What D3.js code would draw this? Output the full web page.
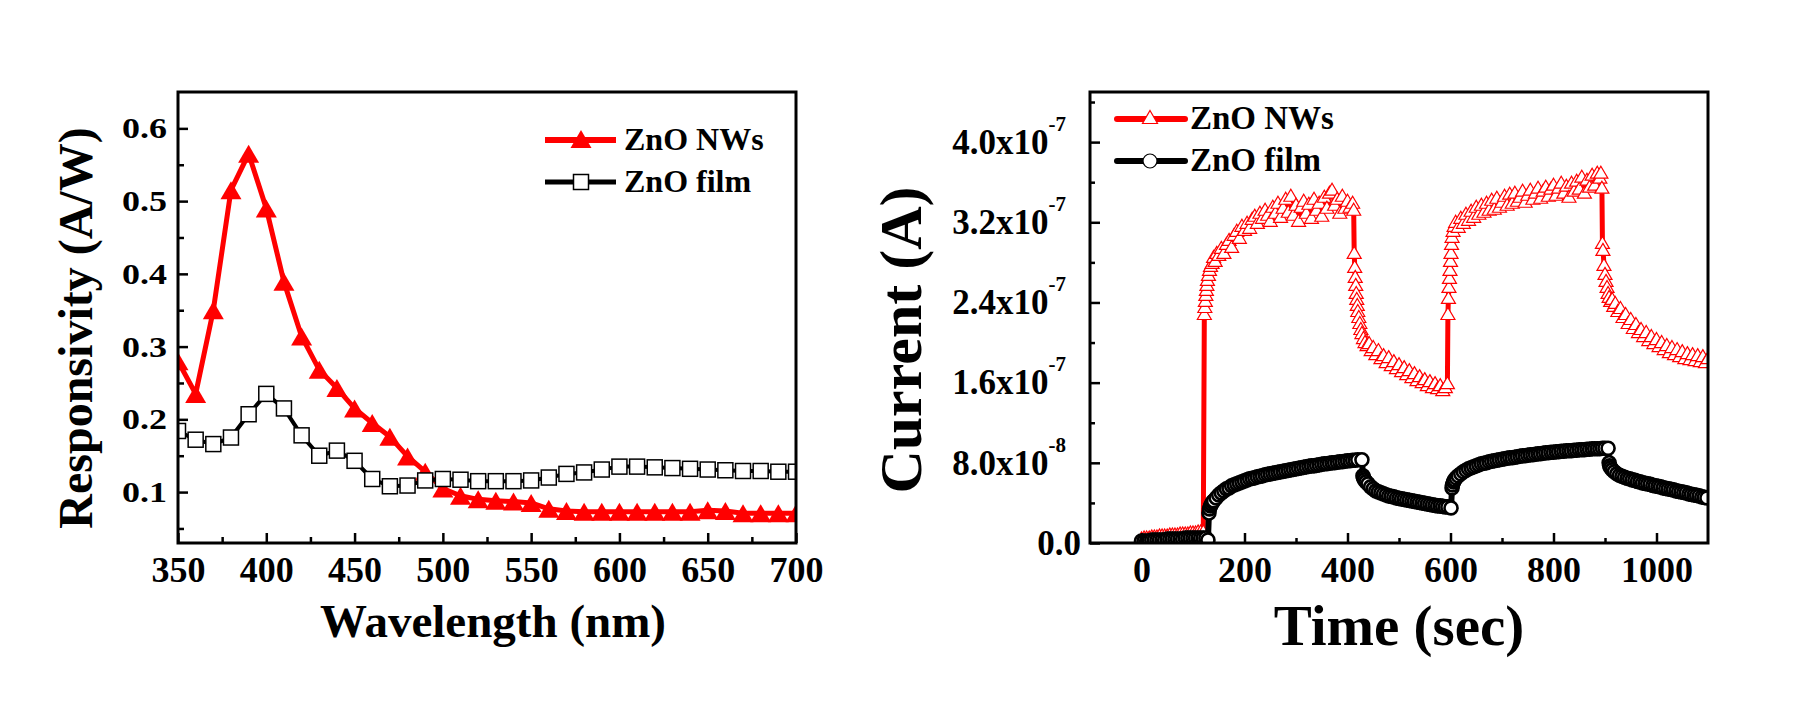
<!DOCTYPE html>
<html><head><meta charset="utf-8">
<script src="https://cdn.jsdelivr.net/npm/d3@7"></script>
<style>
html,body{margin:0;padding:0;background:#fff;}
svg{display:block;background:#fff;}
text{font-family:"Liberation Serif","Times New Roman",serif;font-weight:bold;fill:#000;}
</style></head><body>
<svg id="chart" width="1796" height="707"></svg>
<script>
// ---------------- DATA: left panel (spectral responsivity) ----------------
const wavelength = [350,360,370,380,390,400,410,420,430,440,450,460,470,480,490,500,510,520,530,540,550,560,570,580,590,600,610,620,630,640,650,660,670,680,690,700];
const respNW = [0.280,0.235,0.350,0.515,0.565,0.490,0.389,0.314,0.268,0.243,0.215,0.195,0.176,0.149,0.128,0.105,0.095,0.090,0.088,0.087,0.085,0.077,0.074,0.073,0.073,0.073,0.073,0.073,0.073,0.073,0.075,0.074,0.071,0.071,0.071,0.071];
const respFilm = [0.184,0.172,0.166,0.175,0.207,0.235,0.215,0.178,0.150,0.157,0.143,0.118,0.108,0.109,0.116,0.118,0.117,0.115,0.115,0.115,0.116,0.120,0.125,0.127,0.131,0.135,0.135,0.134,0.133,0.132,0.131,0.130,0.129,0.129,0.128,0.128];
const wlTicks = [350,400,450,500,550,600,650,700];
const wlMinorTicks = [375,425,475,525,575,625,675];
const respTicks = [0.1,0.2,0.3,0.4,0.5,0.6];
const respTickLabels = ["0.1","0.2","0.3","0.4","0.5","0.6"];
const respMinorTicks = [0.05,0.15,0.25,0.35,0.45,0.55];

// ---------------- DATA: right panel (photocurrent vs time), current in units of 1e-7 A ----------------
const currentUnit = 1e-7;
const nwTime = [
 0,5,10,15,20,25,30,35,40,45,50,55,60,65,70,75,80,85,90,95,100,105,110,115,120,
 122,123,124,125,126,127,128,130,132,134,137,140,143,146,150,
 155,160,165,170,175,180,185,190,195,200,205,210,215,220,225,230,235,240,245,250,255,260,265,270,275,280,285,290,295,300,305,310,315,320,325,330,335,340,345,350,355,360,365,370,375,380,385,390,395,400,405,
 410,412,413,414,415,416,417,418,419,420,422,424,426,428,431,434,438,442,446,450,
 455,460,465,470,475,480,485,490,495,500,505,510,515,520,525,530,535,540,545,550,555,560,565,570,575,580,585,590,
 594,595,596,597,598,599,600,601,602,603,605,607,
 610,615,620,625,630,635,640,645,650,655,660,665,670,675,680,685,690,695,700,705,710,715,720,725,730,735,740,745,750,755,760,765,770,775,780,785,790,795,800,805,810,815,820,825,830,835,840,845,850,855,860,865,870,875,880,885,
 890,892,894,
 895,896,898,900,902,904,906,908,911,914,917,920,
 925,930,935,940,945,950,955,960,965,970,975,980,985,990,995,1000,1005,1010,1015,1020,1025,1030,1035,1040,1045,1050,1055,1060,1065,1070,1075,1080,1085,1090,1095,1100
];
const nwCurrent = [
 0.05,0.06,0.06,0.06,0.07,0.07,0.07,0.08,0.08,0.08,0.08,0.09,0.09,0.09,0.09,0.10,0.10,0.10,0.10,0.11,0.11,0.11,0.12,0.12,0.12,
 2.29,2.36,2.42,2.48,2.53,2.58,2.63,2.68,2.73,2.77,2.80,2.86,2.82,2.90,2.88,
 2.95,2.90,2.99,3.03,2.96,3.08,3.12,3.05,3.17,3.13,3.20,3.15,3.24,3.27,3.20,3.30,3.25,3.33,3.28,3.22,3.36,3.30,3.40,3.26,3.35,3.44,3.31,3.47,3.28,3.38,3.22,3.36,3.42,3.30,3.39,3.25,3.44,3.33,3.40,3.27,3.46,3.35,3.50,3.53,3.38,3.44,3.30,3.47,3.35,3.42,3.36,
 3.40,3.33,2.90,2.76,2.66,2.58,2.50,2.44,2.38,2.32,2.26,2.20,2.14,2.10,2.05,2.01,1.98,2.00,1.93,1.96,
 1.89,1.93,1.85,1.88,1.81,1.86,1.78,1.82,1.75,1.79,1.72,1.76,1.69,1.73,1.66,1.70,1.63,1.67,1.61,1.64,1.58,1.62,1.56,1.60,1.55,1.58,1.53,1.56,
 1.60,2.29,2.45,2.56,2.65,2.73,2.82,2.90,2.99,3.06,3.12,3.17,
 3.21,3.16,3.25,3.20,3.29,3.23,3.32,3.26,3.36,3.29,3.38,3.31,3.40,3.33,3.43,3.34,3.45,3.36,3.41,3.47,3.38,3.49,3.40,3.50,3.42,3.46,3.52,3.41,3.48,3.53,3.44,3.50,3.55,3.45,3.52,3.56,3.47,3.54,3.58,3.48,3.55,3.60,3.50,3.57,3.46,3.60,3.52,3.62,3.54,3.66,3.50,3.63,3.56,3.68,3.58,3.70,
 3.65,3.70,3.55,
 3.00,2.93,2.78,2.69,2.62,2.56,2.50,2.46,2.42,2.44,2.37,2.40,
 2.32,2.35,2.26,2.29,2.20,2.24,2.15,2.19,2.11,2.14,2.07,2.11,2.03,2.07,2.00,2.04,1.97,2.01,1.94,1.98,1.91,1.96,1.89,1.94,1.87,1.92,1.85,1.90,1.84,1.89,1.83,1.88,1.82,1.87,1.81,1.85
];
const filmTime = [
 0,5,10,15,20,25,30,35,40,45,50,55,60,65,70,75,80,85,90,95,100,105,110,115,120,125,
 129,131,132,134,136,138,140,
 145,150,155,160,165,170,175,180,185,190,195,200,205,210,215,220,225,230,235,240,245,250,255,260,265,270,275,280,285,290,295,300,305,310,315,320,325,330,335,340,345,350,355,360,365,370,375,380,385,390,395,400,405,410,415,420,
 428,
 430,431,433,436,440,
 445,450,455,460,465,470,475,480,485,490,495,500,505,510,515,520,525,530,535,540,545,550,555,560,565,570,575,580,585,590,595,
 601,603,604,606,608,611,615,
 620,625,630,635,640,645,650,655,660,665,670,675,680,685,690,695,700,705,710,715,720,725,730,735,740,745,750,755,760,765,770,775,780,785,790,795,800,805,810,815,820,825,830,835,840,845,850,855,860,865,870,875,880,885,890,895,900,
 906,
 908,909,911,914,918,
 923,928,933,938,943,948,953,958,963,968,973,978,983,988,993,998,1003,1008,1013,1018,1023,1028,1033,1038,1043,1048,1053,1058,1063,1068,1073,1078,1083,1088,1093,1098
];
const filmCurrent = [
 0.02,0.02,0.02,0.02,0.03,0.03,0.03,0.03,0.03,0.03,0.04,0.04,0.04,0.04,0.04,0.04,0.04,0.05,0.05,0.05,0.05,0.05,0.05,0.05,0.05,0.05,
 0.03,0.30,0.34,0.37,0.39,0.41,0.42,
 0.45,0.48,0.50,0.52,0.54,0.55,0.57,0.58,0.59,0.60,0.61,0.62,0.63,0.64,0.645,0.65,0.66,0.665,0.67,0.68,0.685,0.69,0.695,0.70,0.705,0.71,0.715,0.72,0.725,0.73,0.735,0.74,0.745,0.75,0.755,0.76,0.765,0.77,0.77,0.775,0.78,0.785,0.79,0.79,0.795,0.80,0.80,0.805,0.81,0.81,0.815,0.82,0.82,0.825,0.825,0.83,
 0.83,
 0.67,0.65,0.63,0.61,0.59,
 0.56,0.54,0.52,0.51,0.50,0.49,0.48,0.47,0.465,0.46,0.45,0.445,0.44,0.435,0.43,0.425,0.42,0.415,0.41,0.405,0.40,0.395,0.39,0.385,0.38,0.375,0.37,0.37,0.365,0.36,0.36,
 0.35,0.55,0.58,0.61,0.63,0.65,0.67,
 0.69,0.71,0.725,0.74,0.75,0.76,0.77,0.78,0.79,0.795,0.80,0.81,0.815,0.82,0.825,0.83,0.835,0.84,0.845,0.85,0.85,0.855,0.86,0.865,0.87,0.87,0.875,0.88,0.88,0.885,0.89,0.89,0.895,0.90,0.90,0.905,0.905,0.91,0.91,0.915,0.915,0.92,0.92,0.92,0.925,0.925,0.93,0.93,0.93,0.935,0.935,0.94,0.94,0.94,0.94,0.945,0.945,
 0.945,
 0.80,0.77,0.75,0.73,0.71,
 0.69,0.675,0.665,0.655,0.645,0.64,0.63,0.625,0.615,0.61,0.60,0.595,0.59,0.585,0.575,0.57,0.565,0.56,0.55,0.545,0.54,0.535,0.53,0.52,0.515,0.51,0.505,0.50,0.49,0.485,0.48,0.475,0.47,0.46,0.455,0.45
];
const timeTicks = [0,200,400,600,800,1000];
const timeTickLabels = ["0","200","400","600","800","1000"];
const timeMinorTicks = [100,300,500,700,900];
const currentTicks = [0,0.8,1.6,2.4,3.2,4.0];
const currentTickMantissa = ["0.0","8.0x10","1.6x10","2.4x10","3.2x10","4.0x10"];
const currentTickExponent = ["","-8","-7","-7","-7","-7"];
const currentMinorTicks = [0.4,1.2,2.0,2.8,3.6,4.4];
const seriesNames = ["ZnO NWs","ZnO film"];

// ---------------- LAYOUT ----------------
const svg = d3.select("#chart");
const RED = "#ff0000";
const PL = {x0:178, x1:796, y0:92, y1:543};
const PR = {x0:1090, x1:1708, y0:92, y1:543};

const xL = d3.scaleLinear().domain([350,700]).range([PL.x0,PL.x1]);
const yL = d3.scaleLinear().domain([0.03,0.65]).range([PL.y1,PL.y0]);
const xR = d3.scaleLinear().domain([-100,1100]).range([PR.x0,PR.x1]);
const yR = d3.scaleLinear().domain([0,4.5]).range([PR.y1,PR.y0]);

const defs = svg.append("defs");
function clip(id,P){
  defs.append("clipPath").attr("id",id).append("rect")
    .attr("x",P.x0).attr("y",P.y0).attr("width",P.x1-P.x0).attr("height",P.y1-P.y0);
}
clip("clipL",PL); clip("clipR",PR);

function triPath(w,h){ return `M0,${-h/2}L${w/2},${h/2}L${-w/2},${h/2}Z`; }

// ---------- LEFT PANEL ----------
const gL = svg.append("g").attr("clip-path","url(#clipL)");
const nwPts = wavelength.map((w,i)=>[w,respNW[i]]);
const filmPts = wavelength.map((w,i)=>[w,respFilm[i]]);
const lineL = d3.line().x(d=>xL(d[0])).y(d=>yL(d[1]));
gL.append("path").datum(nwPts).attr("d",lineL).attr("fill","none")
  .attr("stroke",RED).attr("stroke-width",5).attr("stroke-linejoin","round");
gL.selectAll("path.tri").data(nwPts).enter().append("path").attr("class","tri")
  .attr("d",triPath(21,18)).attr("transform",d=>`translate(${xL(d[0])},${yL(d[1])})`)
  .attr("fill",RED);
gL.append("path").datum(filmPts).attr("d",lineL).attr("fill","none")
  .attr("stroke","#000").attr("stroke-width",4).attr("stroke-linejoin","round");
gL.selectAll("rect.sq").data(filmPts).enter().append("rect").attr("class","sq")
  .attr("x",d=>xL(d[0])-7.5).attr("y",d=>yL(d[1])-7.5).attr("width",15).attr("height",15)
  .attr("fill","#fff").attr("stroke","#000").attr("stroke-width",1.5);

function styleAxis(g,fs){
  g.attr("font-family",null).attr("font-size",null);
  g.select(".domain").remove();
  g.selectAll("line").attr("stroke","#000").attr("stroke-width",2.5);
  g.selectAll("text").style("font-size",fs+"px");
}
// x axis left
styleAxis(svg.append("g").attr("transform",`translate(0,${PL.y1})`)
  .call(d3.axisBottom(xL).tickValues(wlTicks).tickFormat(d3.format("d")).tickSizeInner(-10).tickSizeOuter(0).tickPadding(13)),36);
styleAxis(svg.append("g").attr("transform",`translate(0,${PL.y1})`)
  .call(d3.axisBottom(xL).tickValues(wlMinorTicks).tickFormat(()=>"").tickSizeInner(-6).tickSizeOuter(0)),36);
// y axis left (labels slightly widened like the original)
const gyL = svg.append("g").attr("transform",`translate(${PL.x0},0)`)
  .call(d3.axisLeft(yL).tickValues(respTicks).tickFormat((d,i)=>respTickLabels[i]).tickSizeInner(-10).tickSizeOuter(0).tickPadding(11));
styleAxis(gyL,30);
gyL.selectAll("text").attr("x",-11/1.2).attr("transform","scale(1.2,1)");
styleAxis(svg.append("g").attr("transform",`translate(${PL.x0},0)`)
  .call(d3.axisLeft(yL).tickValues(respMinorTicks).tickFormat(()=>"").tickSizeInner(-6).tickSizeOuter(0)),30);

svg.append("rect").attr("x",PL.x0).attr("y",PL.y0).attr("width",PL.x1-PL.x0).attr("height",PL.y1-PL.y0)
  .attr("fill","none").attr("stroke","#000").attr("stroke-width",3);

// legend left
const legL = svg.append("g");
[[140,0],[182,1]].forEach(([ly,k])=>{
  legL.append("line").attr("x1",545).attr("x2",616).attr("y1",ly).attr("y2",ly)
    .attr("stroke",k===0?RED:"#000").attr("stroke-width",k===0?6:5);
  if(k===0) legL.append("path").attr("d",triPath(21,18)).attr("transform",`translate(581,${ly-1})`).attr("fill",RED);
  else legL.append("rect").attr("x",581-7.5).attr("y",ly-7.5).attr("width",15).attr("height",15).attr("fill","#fff").attr("stroke","#000").attr("stroke-width",1.5);
  legL.append("text").attr("x",624).attr("y",ly+10).style("font-size","32px").text(seriesNames[k]);
});

// titles left
svg.append("text").attr("x",(PL.x0+PL.x1)/2+6).attr("y",637).attr("text-anchor","middle")
  .style("font-size","47px").text("Wavelength (nm)");
svg.append("text").attr("transform",`translate(92,328) rotate(-90)`).attr("text-anchor","middle")
  .style("font-size","48px").text("Responsivity (A/W)");

// ---------- RIGHT PANEL ----------
const gR = svg.append("g").attr("clip-path","url(#clipR)");
const nwTPts = nwTime.map((t,i)=>[t,nwCurrent[i]]);
const filmTPts = filmTime.map((t,i)=>[t,filmCurrent[i]]);
const lineR = d3.line().x(d=>xR(d[0])).y(d=>yR(d[1]));
gR.append("path").datum(nwTPts).attr("d",lineR).attr("fill","none")
  .attr("stroke",RED).attr("stroke-width",5).attr("stroke-linejoin","round");
gR.selectAll("path.otri").data(nwTPts).enter().append("path").attr("class","otri")
  .attr("d",triPath(14,12)).attr("transform",d=>`translate(${xR(d[0])},${yR(d[1])})`)
  .attr("fill","#fff").attr("stroke",RED).attr("stroke-width",1.2);
gR.append("path").datum(filmTPts).attr("d",lineR).attr("fill","none")
  .attr("stroke","#000").attr("stroke-width",6).attr("stroke-linejoin","round");
gR.selectAll("circle.oc").data(filmTPts).enter().append("circle").attr("class","oc")
  .attr("cx",d=>xR(d[0])).attr("cy",d=>yR(d[1])).attr("r",6.5)
  .attr("fill","#fff").attr("stroke","#000").attr("stroke-width",2.6);

styleAxis(svg.append("g").attr("transform",`translate(0,${PR.y1})`)
  .call(d3.axisBottom(xR).tickValues(timeTicks).tickFormat((d,i)=>timeTickLabels[i]).tickSizeInner(-10).tickSizeOuter(0).tickPadding(13)),36);
styleAxis(svg.append("g").attr("transform",`translate(0,${PR.y1})`)
  .call(d3.axisBottom(xR).tickValues(timeMinorTicks).tickFormat(()=>"").tickSizeInner(-5).tickSizeOuter(0)),36);
const gyR = svg.append("g").attr("transform",`translate(${PR.x0},0)`)
  .call(d3.axisLeft(yR).tickValues(currentTicks).tickFormat(()=>"").tickSizeInner(-10).tickSizeOuter(0));
styleAxis(gyR,35);
gyR.selectAll("g.tick").each(function(d,i){
  const t = d3.select(this).append("text").attr("text-anchor","end").attr("dy","0.32em")
    .attr("x", currentTickExponent[i] ? -24 : -9).style("font-size","35px");
  t.append("tspan").text(currentTickMantissa[i]);
  if(currentTickExponent[i]) t.append("tspan").attr("dy",-23).style("font-size","21px").text(currentTickExponent[i]);
});
styleAxis(svg.append("g").attr("transform",`translate(${PR.x0},0)`)
  .call(d3.axisLeft(yR).tickValues(currentMinorTicks).tickFormat(()=>"").tickSizeInner(-5).tickSizeOuter(0)),35);

svg.append("rect").attr("x",PR.x0).attr("y",PR.y0).attr("width",PR.x1-PR.x0).attr("height",PR.y1-PR.y0)
  .attr("fill","none").attr("stroke","#000").attr("stroke-width",3);

// legend right
const legR = svg.append("g");
[[119,0],[161,1]].forEach(([ly,k])=>{
  legR.append("line").attr("x1",1117).attr("x2",1185).attr("y1",ly).attr("y2",ly)
    .attr("stroke",k===0?RED:"#000").attr("stroke-width",6).attr("stroke-linecap","round");
  if(k===0) legR.append("path").attr("d",triPath(15,13)).attr("transform",`translate(1150,${ly-2})`).attr("fill","#fff").attr("stroke",RED).attr("stroke-width",1.2);
  else legR.append("circle").attr("cx",1150).attr("cy",ly).attr("r",7).attr("fill","#fff").attr("stroke","#000").attr("stroke-width",1.2);
  legR.append("text").attr("x",1190).attr("y",ly+10).style("font-size","33px").text(seriesNames[k]);
});

// titles right
svg.append("text").attr("x",(PR.x0+PR.x1)/2).attr("y",645).attr("text-anchor","middle")
  .style("font-size","57px").text("Time (sec)");
svg.append("text").attr("transform",`translate(921,340) rotate(-90)`).attr("text-anchor","middle")
  .style("font-size","60px").text("Current (A)");
</script>
</body></html>
